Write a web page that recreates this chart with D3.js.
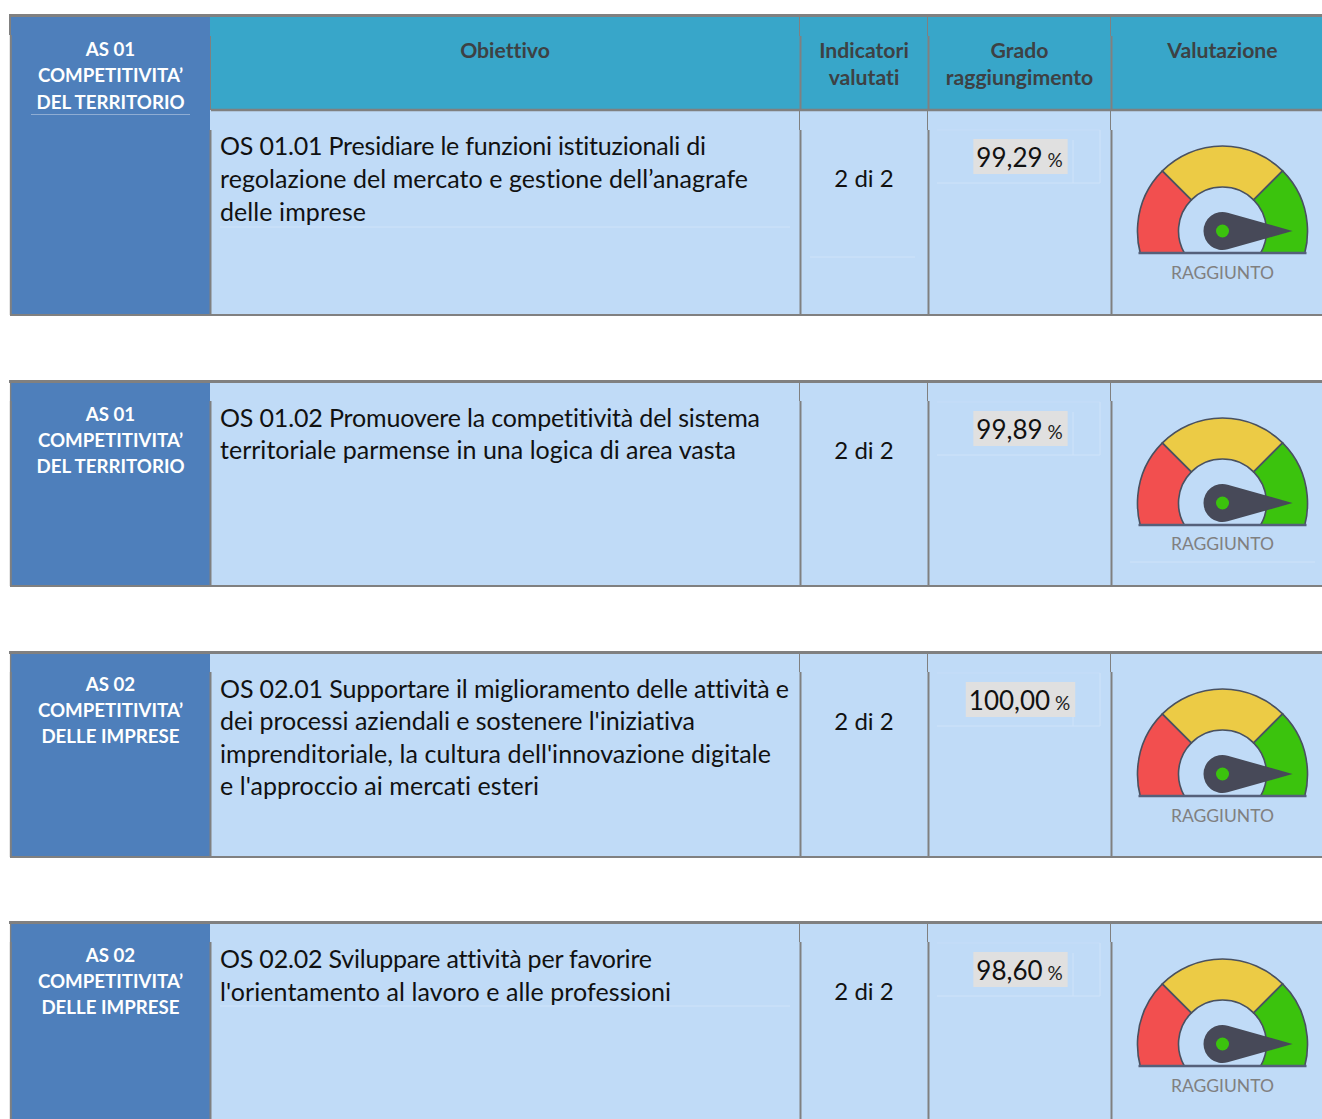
<!DOCTYPE html>
<html>
<head>
<meta charset="utf-8">
<script src="https://cdn.jsdelivr.net/npm/d3@7"></script>
<style>
  html, body { margin: 0; padding: 0; background: #fff; }
  svg { display: block; }
  text { font-family: Lato, "Open Sans", sans-serif; font-variant-ligatures: none; }
</style>
</head>
<body>
<svg id="chart" width="1322" height="1119"></svg>
<script>
// data
const areaLines = [
  ["AS 01", "COMPETITIVITA’", "DEL TERRITORIO"],
  ["AS 01", "COMPETITIVITA’", "DEL TERRITORIO"],
  ["AS 02", "COMPETITIVITA’", "DELLE IMPRESE"],
  ["AS 02", "COMPETITIVITA’", "DELLE IMPRESE"]
];
const goalLines = [
  ["OS 01.01 Presidiare le funzioni istituzionali di", "regolazione del mercato e gestione dell’anagrafe", "delle imprese"],
  ["OS 01.02 Promuovere la competitività del sistema", "territoriale parmense in una logica di area vasta"],
  ["OS 02.01 Supportare il miglioramento delle attività e", "dei processi aziendali e sostenere l'iniziativa", "imprenditoriale, la cultura dell'innovazione digitale", "e l'approccio ai mercati esteri"],
  ["OS 02.02 Sviluppare attività per favorire", "l'orientamento al lavoro e alle professioni"]
];
const indicators = ["2 di 2", "2 di 2", "2 di 2", "2 di 2"];
const grades = ["99,29", "99,89", "100,00", "98,60"];
const verdicts = ["RAGGIUNTO", "RAGGIUNTO", "RAGGIUNTO", "RAGGIUNTO"];
const headers = [
  ["Obiettivo"],
  ["Indicatori", "valutati"],
  ["Grado", "raggiungimento"],
  ["Valutazione"]
];
// gauge zones, degrees from the top of the dial
const zoneAngles = [-125, -45, 45, 125];
const zoneColors = ["#f25050", "#eccb45", "#3ac30f"];

// layout
const rowTop = [16, 382, 653, 923];
const rowBottom = [315, 586, 857, 1140];
const contentTop = [110, 382, 653, 923];
const colX = [10, 210, 800, 928, 1111, 1322];
// right end of each goal line, so the widths follow the original font
const goalEnds = [[706, 748, 366], [760, 736], [789, 695, 771, 539], [652, 671]];
const goalStep = [33, 32, 32.4, 33];
const goalRule = [117, null, null, 83];

const grey = "#808080";
const svg = d3.select("#chart");

// soft edge on the gauges, the original is a scaled bitmap
svg.append("defs").append("filter").attr("id", "soft")
  .append("feGaussianBlur").attr("stdDeviation", 0.45);

function bar(x1, y1, x2, y2, color, w) {
  svg.append("line").attr("x1", x1).attr("y1", y1).attr("x2", x2).attr("y2", y2)
    .attr("stroke", color).attr("stroke-width", w);
}

function label(x, y, str, size, color, anchor, weight) {
  return svg.append("text").attr("x", x).attr("y", y).text(str)
    .attr("font-size", size).attr("fill", color)
    .attr("text-anchor", anchor).attr("font-weight", weight || 400);
}

const rad = d => d * Math.PI / 180;
const arc = d3.arc().innerRadius(44).outerRadius(85);

rowTop.forEach((top, i) => {
  const bottom = rowBottom[i];
  const y0 = contentTop[i];
  const notch = top + 19;

  // cells
  svg.append("rect").attr("x", colX[0]).attr("y", top).attr("width", 1312).attr("height", bottom - top).attr("fill", "#c0dbf7");
  svg.append("rect").attr("x", colX[0]).attr("y", top).attr("width", colX[1] - colX[0]).attr("height", bottom - top).attr("fill", "#4e7fbb");

  // faint cell lines
  const faint = "#cfe3f9";
  if (goalRule[i] !== null) bar(220, y0 + goalRule[i], 790, y0 + goalRule[i], faint, 1);
  bar(937, y0 + 73, 1100, y0 + 73, faint, 1);
  bar(937, y0 + 20, 1100, y0 + 20, "#c6ddf8", 1);
  bar(1100, y0 + 20, 1100, y0 + 73, faint, 1);
  bar(1073, y0 + 30, 1073, y0 + 73, faint, 1);
  if (i === 0) bar(810, y0 + 147, 915, y0 + 147, faint, 1);
  if (i === 1) bar(1130, y0 + 180, 1315, y0 + 180, faint, 1);

  // borders
  bar(colX[0] - 1, top - 0.5, 1322, top - 0.5, grey, 3);
  bar(colX[0], bottom, 1322, bottom, grey, 2);
  bar(colX[0] + 0.8, notch, colX[0] + 0.8, bottom, grey, 2);
  bar(i === 0 ? colX[0] : colX[0] + 0.6, top, i === 0 ? colX[0] : colX[0] + 0.6, notch, grey, i === 0 ? 2 : 1.4);
  const lower = i === 0 ? 130 : notch;
  colX.slice(1, 5).forEach(x => {
    bar(x + 0.5, lower, x + 0.5, bottom, grey, 2);
    if (x > colX[1]) bar(x - 0.5, top, x - 0.5, lower, grey, 1);
  });

  // area text
  const areaBase = [56, 421, 691, 962][i];
  areaLines[i].forEach((t, k) => label(110.5, areaBase + k * 26 + (i === 0 && k === 2 ? 1 : 0), t, 18.7, "#fff", "middle", 700));
  if (i === 0) bar(31, 114.5, 190, 114.5, "#8fadd3", 1);

  // goal text
  goalLines[i].forEach((t, k) => {
    label(220, y0 + 45 + k * goalStep[i], t, 25, "#111", "start")
      .attr("textLength", goalEnds[i][k] - 220).attr("lengthAdjust", "spacing");
  });

  // indicators
  label(864, y0 + 77, indicators[i], 24, "#111", "middle");

  // grade box
  const gradeG = svg.append("g");
  const gradeText = gradeG.append("text").attr("y", y0 + 57).attr("font-size", 26).attr("fill", "#111").attr("text-anchor", "middle");
  gradeText.append("tspan").text(grades[i]);
  gradeText.append("tspan").text(" %").attr("font-size", 19).attr("fill", "#222");
  const cx = 1019.5;
  gradeText.attr("x", cx);
  const bb = gradeText.node().getBBox();
  gradeG.insert("rect", "text").attr("x", cx - bb.width / 2 - 3).attr("y", y0 + 29).attr("width", bb.width + 8).attr("height", 35).attr("fill", "#e0e0e0");

  // gauge
  const gx = 1222.5, gy = y0 + 121, base = y0 + 143;
  const clipId = "clip" + i;
  svg.append("clipPath").attr("id", clipId).append("rect").attr("x", gx - 100).attr("y", gy - 100).attr("width", 200).attr("height", base - gy + 100);
  const dial = svg.append("g").attr("filter", "url(#soft)");
  const clipped = dial.append("g").attr("clip-path", `url(#${clipId})`);
  zoneColors.forEach((c, z) => {
    clipped.append("path")
      .attr("transform", `translate(${gx},${gy})`)
      .attr("d", arc({ startAngle: rad(zoneAngles[z]), endAngle: rad(zoneAngles[z + 1]) }))
      .attr("fill", c).attr("stroke", "#4a5160").attr("stroke-width", 1.6);
  });
  dial.append("line").attr("x1", gx - 84).attr("y1", base).attr("x2", gx + 84).attr("y2", base)
    .attr("stroke", "#55607a").attr("stroke-width", 2.5);

  // needle
  const r = 19, tip = 70, a = Math.acos(r / tip);
  const p = d3.path();
  p.moveTo(tip, 0);
  p.lineTo(r * Math.cos(a), r * Math.sin(a));
  p.arc(0, 0, r, a, -a);
  p.closePath();
  dial.append("path").attr("transform", `translate(${gx},${gy})`).attr("d", p.toString()).attr("fill", "#464a58");
  dial.append("circle").attr("cx", gx).attr("cy", gy).attr("r", 6.5).attr("fill", "#3ac30f");

  label(gx, base + 26 - (i === 1 ? 1 : 0), verdicts[i], 17.5, "#808080", "middle");
});

// header band of the first row
svg.append("rect").attr("x", 210).attr("y", 17).attr("width", 1112).attr("height", 92).attr("fill", "#38a6c9");
colX.slice(2, 5).forEach(x => {
  bar(x - 0.5, 17, x - 0.5, 36, grey, 1);
  bar(x + 0.5, 36, x + 0.5, 110, grey, 2);
});
bar(210.5, 36, 210.5, 110, grey, 1);
bar(211, 110, 1322, 110, grey, 2.5);

const headX = [505, 864, 1019.5, 1222.5];
headers.forEach((lines, i) => {
  lines.forEach((t, k) => label(headX[i], 58 + k * 27, t, 21.2, "#3d4144", "middle", 700));
});
</script>
</body>
</html>
